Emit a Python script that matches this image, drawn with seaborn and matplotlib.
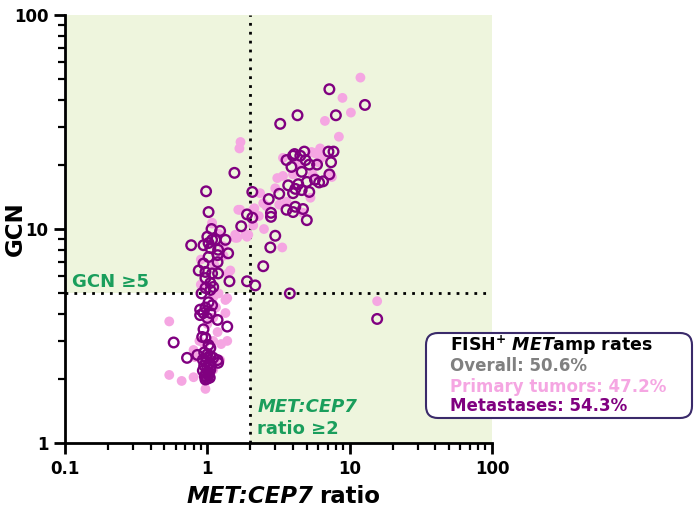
import numpy as np
import pandas as pd
import matplotlib.pyplot as plt
import seaborn as sns
from matplotlib.patches import FancyBboxPatch
from matplotlib.ticker import FixedLocator, LogLocator, NullFormatter

sns.set_style("white")
plt.rcParams['font.family'] = ['DejaVu Sans']
plt.rcParams['mathtext.fontset'] = 'dejavusans'
for k in ['text.color', 'axes.labelcolor', 'xtick.color', 'ytick.color']:
    plt.rcParams[k] = 'black'

# 转移灶 (空心圆)
met_ratio = [7.2, 12.8, 4.3, 8.0, 3.25,
             4.0, 4.5, 4.9, 3.6, 3.9, 5.2, 5.9, 7.1, 7.7, 7.4, 4.6, 7.2, 5.7, 6.1, 6.5,
             5.0, 4.35, 3.7, 4.15, 4.0, 4.6, 5.2, 3.2, 2.7, 2.07, 3.6, 4.0, 4.15, 4.7,
             2.8, 2.8, 5.0, 1.9, 2.07, 3.0, 2.77, 2.47, 4.1, 4.8, 1.73, 1.55, 3.8, 15.6,
             2.17, 1.9,
             0.98, 1.02, 1.07, 1.23, 0.77, 0.94, 1.02, 1.08, 1.0, 1.14, 1.05, 1.19, 1.34,
             1.4, 1.02, 1.18, 0.94, 1.18, 0.87, 0.97, 1.08, 1.19, 1.43, 0.97, 1.05, 1.1,
             0.97, 1.05, 0.91, 0.89, 0.97, 1.02, 1.08, 0.94, 1.05, 1.18, 1.0, 0.89, 1.38,
             0.94, 0.92, 0.97, 0.58, 1.02, 1.05, 0.72, 0.85, 1.18, 1.19,
             0.95, 1.0, 1.05, 0.93, 0.98, 1.03, 0.95, 1.0, 1.05, 0.93, 0.98, 1.02, 0.96,
             1.0, 1.04, 0.97, 1.01, 1.06, 0.99, 1.1]
met_gcn = [45, 38, 34, 34, 31,
           22, 22, 21, 21, 19.5, 20, 20, 23, 23, 20.5, 18.5, 18, 17, 16.5, 16.7,
           16.6, 16.2, 16, 15.4, 14.7, 15.2, 14.9, 14.6, 13.8, 14.9, 12.3, 12.0, 12.7, 12.4,
           11.9, 11.4, 11.0, 11.7, 11.3, 9.3, 8.2, 6.7, 22.4, 23, 10.3, 18.3, 5.0, 3.8,
           5.45, 5.7,
           15, 12, 10, 9.8, 8.4, 8.4, 8.6, 8.9, 9.2, 8.9, 8.15, 8.0, 8.9,
           7.7, 7.4, 7.55, 6.9, 7.0, 6.4, 6.3, 6.2, 6.2, 5.7, 5.9, 5.6, 5.36,
           5.3, 5.19, 5.0, 4.2, 4.3, 4.55, 4.4, 4.05, 4.05, 3.76, 3.84, 3.96, 3.5,
           3.4, 3.13, 3.1, 2.95, 2.87, 2.78, 2.5, 2.58, 2.44, 2.37,
           2.65, 2.6, 2.55, 2.45, 2.4, 2.35, 2.3, 2.25, 2.2, 2.18, 2.12, 2.08, 2.05,
           2.0, 2.02, 1.98, 2.15, 2.3, 2.5, 2.5]

# 原发肿瘤 (实心粉点)
pri_ratio = [11.9, 8.9, 10.2, 6.7, 8.4, 3.4, 3.1, 3.4, 2.35, 2.47, 2.14, 2.1, 3.36,
             5.7, 7.5, 3.6, 4.7, 6.2, 5.4, 7.3, 1.7, 1.57, 1.94, 1.71, 1.68, 1.08,
             1.65, 1.62, 1.9, 2.1, 15.6,
             0.54, 0.54, 0.66, 0.8, 0.97, 1.38, 1.38, 1.34, 1.18, 1.1, 0.8, 0.82, 1.23,
             1.4, 1.1, 1.45, 1.34, 1.08, 1.57, 1.85,
             0.9, 1.12, 1.2, 1.0, 1.15, 0.88, 1.25, 1.1, 0.95, 1.3, 1.2, 1.3, 1.1, 0.9,
             2.6, 3.0, 4.4, 5.5, 6.0, 2.3, 2.5, 3.2, 5.3, 6.3, 4.0]
pri_gcn = [51, 41, 35, 32, 27, 21.5, 17.3, 17.7, 14.7, 13.2, 12.5, 10.4, 8.2,
           22.6, 17.5, 13.4, 11.9, 23.8, 22.9, 17.9, 12.3, 9.4, 9.4, 25.5, 23.8, 10.6,
           12.3, 9.1, 9.2, 12.3, 4.6,
           3.7, 2.08, 1.95, 2.03, 1.79, 3.0, 4.75, 4.05, 3.3, 3.0, 2.72, 2.52, 2.44,
           6.2, 3.85, 6.4, 4.66, 10.7, 9.1, 9.4,
           5.5, 6.8, 5.0, 3.6, 4.3, 3.0, 2.9, 2.2, 2.9, 7.5, 9.5, 8.3, 4.8, 7.2,
           12.8, 15.5, 20, 18, 20.5, 11.5, 10, 13, 14, 21.5, 18]

rate_labels = ['Overall: 50.6%', 'Primary tumors: 47.2%', 'Metastases: 54.3%']

pink = '#F5A6E2'
purple = '#800080'
green = '#1A9E5C'
shade = '#EEF5DD'

df_met = pd.DataFrame({'ratio': met_ratio, 'gcn': met_gcn})
df_pri = pd.DataFrame({'ratio': pri_ratio, 'gcn': pri_gcn})

fig = plt.figure(figsize=(6.96, 5.14), dpi=100)
ax = fig.add_axes([0.0934, 0.1381, 0.6135, 0.8327])
ax.set_xscale('log')
ax.set_yscale('log')
ax.set_xlim(0.1, 100)
ax.set_ylim(1, 100)

# 阴影区域: ratio >= 2 或 GCN >= 5
ax.axvspan(2, 100, color=shade, lw=0, zorder=0)
ax.fill_between([0.1, 2], 5, 100, color=shade, lw=0, zorder=0)

sns.scatterplot(data=df_pri, x='ratio', y='gcn', ax=ax, color=pink, s=50,
                edgecolor='none', zorder=2)
sns.scatterplot(data=df_met, x='ratio', y='gcn', ax=ax, facecolor='none',
                edgecolor=purple, linewidth=1.7, s=48, zorder=3)

ax.plot([0.1, 100], [5, 5], color='black', ls=(0, (1, 2.2)), lw=2, zorder=1)
ax.plot([2, 2], [1, 100], color='black', ls=(0, (1, 2.2)), lw=2, zorder=1)

ax.text(0.112, 5.65, 'GCN ≥5', color=green, fontsize=13, fontweight='bold',
        va='center')
ax.text(2.25, 1.47, 'MET:CEP7', color=green, fontsize=13, fontweight='bold',
        style='italic', va='center')
ax.text(2.25, 1.16, 'ratio ≥2', color=green, fontsize=13, fontweight='bold',
        va='center')

for sp in ['top', 'right']:
    ax.spines[sp].set_visible(False)
for sp in ['left', 'bottom']:
    ax.spines[sp].set_linewidth(2)
    ax.spines[sp].set_color('black')

ax.xaxis.set_major_locator(FixedLocator([0.1, 1, 10, 100]))
ax.yaxis.set_major_locator(FixedLocator([1, 10, 100]))
ax.set_xticklabels(['0.1', '1', '10', '100'])
ax.set_yticklabels(['1', '10', '100'])
ax.xaxis.set_minor_locator(LogLocator(base=10, subs=np.arange(2, 10)))
ax.yaxis.set_minor_locator(LogLocator(base=10, subs=np.arange(2, 10)))
ax.xaxis.set_minor_formatter(NullFormatter())
ax.yaxis.set_minor_formatter(NullFormatter())
ax.tick_params(which='major', direction='out', length=8, width=2, labelsize=12,
               bottom=True, left=True, pad=4)
ax.tick_params(which='minor', direction='out', length=5, width=1.6,
               bottom=True, left=True)
for lab in ax.get_xticklabels() + ax.get_yticklabels():
    lab.set_fontweight('bold')

# x 轴标题: 斜体 MET:CEP7 + 正体 ratio
ax.set_xlabel('')
ax.text(0.581, -0.126, 'MET:CEP7', transform=ax.transAxes, fontsize=16.5,
        fontweight='bold', style='italic', ha='right', va='center')
ax.text(0.595, -0.126, 'ratio', transform=ax.transAxes, fontsize=16.5,
        fontweight='bold', ha='left', va='center')
ax.set_ylabel('GCN', fontsize=16.5, fontweight='bold')
ax.yaxis.set_label_coords(-0.09, 0.5)

# 图例框
box = FancyBboxPatch((4.26, 0.96), 2.66, 0.85,
                     boxstyle='round,pad=0,rounding_size=0.12',
                     transform=fig.dpi_scale_trans, facecolor='white',
                     edgecolor='#3A2A6A', lw=1.5, zorder=5)
fig.patches.append(box)
tx = 450 / 696
fig.text(tx, 1 - 345 / 514, r'$\mathbf{FISH}^{\mathbf{+}}\ \mathbfit{MET}\mathbf{amp\ rates}$',
         fontsize=12.5, color='black', va='center', zorder=6)
for lab, col, yy in zip(rate_labels, ['#808080', pink, purple], [366, 387, 406]):
    fig.text(tx, 1 - yy / 514, lab, fontsize=12, fontweight='bold', color=col,
             va='center', zorder=6)

fig.savefig('out.png', dpi=100)
